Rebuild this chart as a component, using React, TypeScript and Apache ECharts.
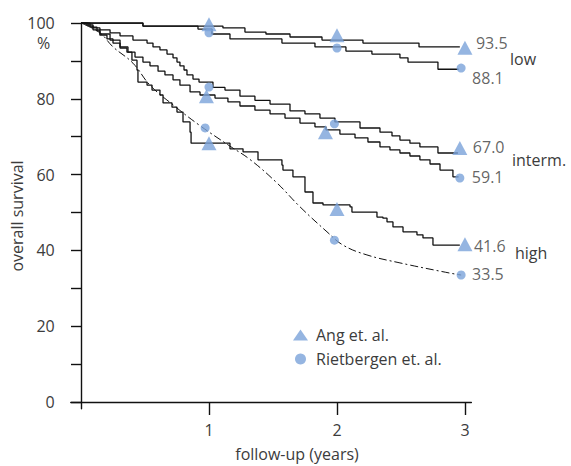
import React, { useEffect, useRef } from 'react';
import * as echarts from 'echarts';

// ---------- data (years, % survival) ----------
const lowAngCurve: [number, number][] = [
  [0, 100], [0.484, 99.2], [1.109, 98.7], [1.281, 97.6], [1.445, 97.1], [1.633, 96.3],
  [1.883, 95.5], [2.203, 94.7], [2.641, 93.7], [2.96, 93.7],
];
const lowRietCurve: [number, number][] = [
  [0, 100], [0.484, 99.2], [0.914, 98.4], [1.023, 97.1], [1.164, 95.8], [1.57, 94.7],
  [1.828, 93.7], [2.07, 92.6], [2.273, 91.8], [2.492, 90.8], [2.555, 89.7], [2.789, 87.8], [2.95, 87.8],
];
const intermAngCurve: [number, number][] = [
  [0, 100], [0.039, 99.5], [0.094, 98.7], [0.148, 98.2], [0.227, 97.4], [0.305, 96.6],
  [0.406, 95.5], [0.516, 94.7], [0.5625, 93.7], [0.617, 92.9], [0.672, 91.8], [0.719, 90.8],
  [0.75, 89.7], [0.773, 88.7], [0.805, 87.6], [0.828, 86.3], [0.875, 85.2], [0.922, 84.4],
  [1.031, 83.0], [1.125, 82.3], [1.242, 80.7], [1.359, 79.6], [1.477, 78.6], [1.633, 76.8],
  [1.75, 76.0], [1.867, 74.9], [1.984, 73.9], [2.18, 72.3], [2.336, 71.2], [2.43, 70.2],
  [2.492, 69.1], [2.57, 68.3], [2.648, 67.3], [2.789, 65.7], [2.945, 65.7],
];
const intermRietCurve: [number, number][] = [
  [0, 100], [0.055, 99.2], [0.094, 98.2], [0.148, 97.1], [0.227, 95.5], [0.305, 93.7],
  [0.367, 92.3], [0.422, 91.0], [0.484, 89.7], [0.539, 88.7], [0.602, 87.3], [0.656, 86.3],
  [0.719, 85.0], [0.773, 83.6], [0.852, 81.8], [0.93, 81.0], [1.047, 80.2], [1.148, 79.2],
  [1.242, 78.1], [1.359, 77.0], [1.477, 76.0], [1.594, 74.9], [1.711, 73.6], [1.828, 72.6],
  [1.914, 71.8], [2.023, 70.7], [2.141, 69.7], [2.242, 68.6], [2.336, 67.3], [2.414, 66.5],
  [2.492, 65.7], [2.57, 64.9], [2.648, 63.9], [2.727, 62.8], [2.805, 61.2], [2.906, 59.4], [2.95, 59.4],
];
const highAngCurve: [number, number][] = [
  [0, 100], [0.07, 98.9], [0.125, 97.9], [0.148, 96.8], [0.203, 95.8], [0.25, 94.7],
  [0.305, 93.4], [0.359, 92.3], [0.398, 90.2], [0.4375, 87.6], [0.445, 84.4], [0.516, 83.6],
  [0.555, 82.3], [0.617, 81.0], [0.641, 78.9], [0.711, 77.8], [0.75, 76.5], [0.797, 73.9],
  [0.852, 71.2], [0.86, 68.3], [1.164, 66.8], [1.266, 66.0], [1.383, 63.9], [1.57, 62.5],
  [1.578, 61.2], [1.656, 59.4], [1.75, 55.4], [1.8125, 52.5], [1.891, 52.0], [2.102, 51.5],
  [2.117, 50.1], [2.3125, 48.8], [2.359, 48.5], [2.391, 47.5], [2.4375, 46.2], [2.516, 44.9],
  [2.625, 44.1], [2.672, 43.3], [2.75, 41.4], [2.96, 41.4],
];
const highRietCurve: [number, number][] = [
  [0, 100], [0.148, 97.4], [0.25, 93.7], [0.406, 89.4], [0.539, 83.6], [0.719, 78.4],
  [0.922, 73.1], [1.164, 67.5], [1.32, 64.0], [1.531, 57.8], [1.711, 51.5], [1.922, 44.9],
  [2.047, 41.4], [2.234, 38.8], [2.492, 36.7], [2.883, 34.0], [2.97, 33.5],
];

const angLow: [number, number][] = [[1.0, 99.7], [2.0, 96.8], [3.0, 93.5]];
const angInterm: [number, number][] = [[0.98, 80.7], [1.91, 71.2], [2.96, 67.0]];
const angHigh: [number, number][] = [[1.0, 68.3], [2.0, 50.9], [3.0, 41.6]];
const rietLow: [number, number][] = [[1.0, 97.4], [2.0, 93.4], [2.97, 88.1]];
const rietInterm: [number, number][] = [[1.0, 83.1], [1.98, 73.4], [2.96, 59.1]];
const rietHigh: [number, number][] = [[0.97, 72.3], [1.98, 42.7], [2.97, 33.5]];

const xTickValues = [1, 2, 3];
const yTickValues = [0, 10, 20, 30, 40, 50, 60, 70, 80, 90, 100];
const yLabelValues = [0, 20, 40, 60, 80, 100];
const legendNames = ['Ang et. al.', 'Rietbergen et. al.'];
const groupNames = ['low', 'interm.', 'high'];

// ---------- layout / style ----------
const FONT = "'Open Sans', sans-serif";
const FS = 16;
const TEXT = '#3c3c3c';
const BLUE = '#7aa2d9';
const AXIS = '#111';
const angLabelOffsets: [number, number][] = [[3.5, -5], [5.5, -1], [1.5, 2]];
const rietLabelOffsets: [number, number][] = [[6.5, 10], [7.5, -1], [6.5, -1]];
const groupLabelPos: [number, number][] = [[510, 59], [512, 160], [515, 253]];

function markItems(groups: [number, number][][], offsets: [number, number][]) {
  const items: any[] = [];
  groups.forEach((g, gi) => {
    g.forEach((p, i) => {
      if (i === g.length - 1) {
        items.push({
          value: p,
          label: {
            show: true,
            position: 'right',
            distance: 0,
            offset: offsets[gi],
            formatter: p[1].toFixed(1),
            color: TEXT,
            fontSize: FS,
            fontFamily: FONT,
          },
        });
      } else {
        items.push({ value: p });
      }
    });
  });
  return items;
}

function stepSeries(data: [number, number][]) {
  return {
    type: 'line',
    data,
    step: 'end',
    showSymbol: false,
    symbol: 'none',
    silent: true,
    lineStyle: { color: '#111', width: 1.3 },
    z: 2,
  };
}

export default function App() {
  const ref = useRef<HTMLDivElement>(null);
  useEffect(() => {
    const chart = echarts.init(ref.current!, null, { renderer: 'svg' });
    const option: any = {
      animation: false,
      textStyle: { fontFamily: FONT },
      grid: { left: 70.76, top: 23, width: 400.6, height: 385.8, containLabel: false },
      xAxis: {
        type: 'value',
        min: -0.08,
        max: 3.05,
        axisLine: { show: true, onZero: true, lineStyle: { color: AXIS, width: 1.4 } },
        axisTick: { show: true, customValues: xTickValues, length: 13, lineStyle: { color: AXIS, width: 1.4 } },
        axisLabel: { show: true, customValues: xTickValues, margin: 13, color: TEXT, fontSize: FS, fontFamily: FONT },
        splitLine: { show: false },
      },
      yAxis: {
        type: 'value',
        min: -1.8,
        max: 100,
        axisLine: { show: true, onZero: true, lineStyle: { color: AXIS, width: 1.4 } },
        axisTick: { show: true, customValues: yTickValues, length: 10, lineStyle: { color: AXIS, width: 1.4 } },
        axisLabel: { show: true, customValues: yLabelValues, margin: 16, color: TEXT, fontSize: FS, fontFamily: FONT },
        splitLine: { show: false },
      },
      legend: {
        show: true,
        data: legendNames,
        orient: 'vertical',
        left: 288,
        top: 322,
        itemWidth: 15,
        itemHeight: 11,
        itemGap: 8,
        selectedMode: false,
        textStyle: { color: TEXT, fontSize: FS, fontFamily: FONT, padding: [0, 0, 0, 3] },
      },
      graphic: [
        { type: 'text', x: 37, y: 43, style: { text: '%', fill: TEXT, font: `${FS}px ${FONT}`, align: 'left', verticalAlign: 'middle' } },
        { type: 'text', x: 17, y: 216, rotation: Math.PI / 2, style: { text: 'overall survival', fill: TEXT, font: `${FS}px ${FONT}`, align: 'center', verticalAlign: 'middle' } },
        { type: 'text', x: 297, y: 454, style: { text: 'follow-up (years)', fill: TEXT, font: `${FS}px ${FONT}`, align: 'center', verticalAlign: 'middle' } },
        ...groupNames.map((n, i) => ({
          type: 'text',
          x: groupLabelPos[i][0],
          y: groupLabelPos[i][1],
          style: { text: n, fill: TEXT, font: `${FS}px ${FONT}`, align: 'left', verticalAlign: 'middle' },
        })),
      ],
      series: [
        stepSeries(lowAngCurve),
        stepSeries(lowRietCurve),
        stepSeries(intermAngCurve),
        stepSeries(intermRietCurve),
        stepSeries(highAngCurve),
        {
          type: 'line',
          data: highRietCurve,
          smooth: 0.4,
          showSymbol: false,
          symbol: 'none',
          silent: true,
          lineStyle: { color: '#111', width: 1, type: [8, 3, 2, 3] },
          z: 2,
        },
        {
          name: legendNames[0],
          type: 'scatter',
          symbol: 'triangle',
          symbolSize: [15, 14],
          itemStyle: { color: BLUE },
          data: markItems([angLow, angInterm, angHigh], angLabelOffsets),
          z: 5,
        },
        {
          name: legendNames[1],
          type: 'scatter',
          symbol: 'circle',
          symbolSize: 9,
          itemStyle: { color: BLUE },
          data: markItems([rietLow, rietInterm, rietHigh], rietLabelOffsets),
          z: 5,
        },
      ],
    };
    chart.setOption(option);
    return () => chart.dispose();
  }, []);
  return <div ref={ref} style={{ position: 'absolute', left: 0, top: 0, width: 571, height: 466 }} />;
}
